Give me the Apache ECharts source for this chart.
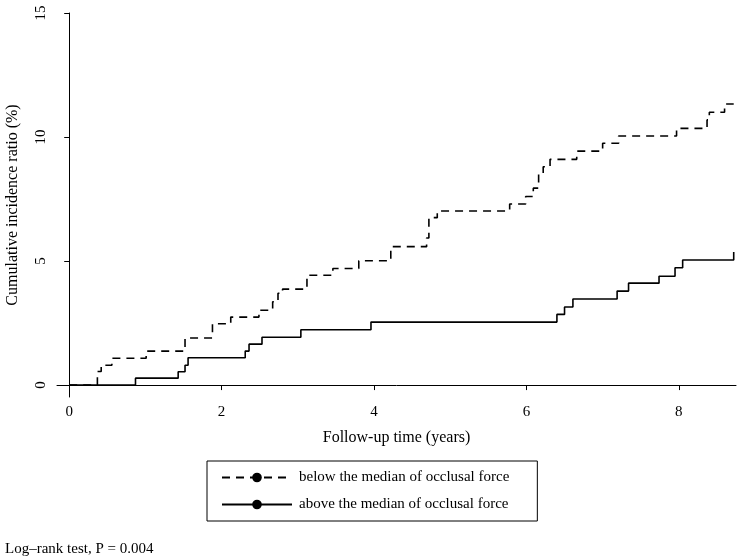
<!DOCTYPE html>
<html><head><meta charset="utf-8">
<script src="https://cdn.jsdelivr.net/npm/echarts@6/dist/echarts.min.js"></script>
<style>body{margin:0}#c{width:749px;height:558px}</style></head>
<body><div id="c"></div>
<script>
const belowSteps = [[0,0],[0.37,0.55],[0.42,0.8],[0.56,1.08],[1.01,1.37],[1.52,1.9],[1.88,2.47],[2.12,2.74],[2.49,3.02],[2.67,3.36],[2.74,3.7],[2.8,3.87],[3.12,4.43],[3.46,4.7],[3.8,5.01],[4.22,5.58],[4.69,5.93],[4.72,6.75],[4.83,7.02],[5.78,7.3],[5.99,7.6],[6.09,7.94],[6.16,8.5],[6.22,8.8],[6.31,9.1],[6.66,9.43],[7.0,9.75],[7.21,10.04],[7.97,10.35],[8.37,10.69],[8.4,11.0],[8.6,11.33],[8.72,11.33]];
const aboveSteps = [[0,0],[0.87,0.28],[1.43,0.54],[1.52,0.8],[1.56,1.1],[2.31,1.37],[2.36,1.65],[2.53,1.93],[3.04,2.23],[3.96,2.54],[6.4,2.85],[6.5,3.15],[6.61,3.47],[7.19,3.79],[7.34,4.11],[7.74,4.39],[7.95,4.73],[8.05,5.04],[8.72,5.04],[8.72,5.37]];
const xTicks = [0,2,4,6,8];
const yTicks = [0,5,10,15];
const seriesNames = ['below the median of occlusal force','above the median of occlusal force'];
const F = 'Liberation Serif';
const chart = echarts.init(document.getElementById('c'));
chart.setOption({
  animation:false,
  textStyle:{fontFamily:F,color:'#000'},
  grid:{left:57,right:13,top:13,bottom:161,containLabel:false,outerBoundsMode:'none'},
  title:{text:'Log\u2013rank test, P = 0.004',left:0,top:537,textStyle:{fontFamily:F,fontSize:15,fontWeight:'normal',color:'#000'}},
  legend:{orient:'vertical',left:207,top:461,itemWidth:70,itemHeight:12,itemGap:12,
    padding:[9,28,9,14],borderColor:'#000',borderWidth:1,
    textStyle:{fontFamily:F,fontSize:15,color:'#000',padding:[0,0,0,2]},
    data:seriesNames},
  xAxis:{type:'value',min:-0.16,max:8.75,name:'Follow-up time (years)',nameLocation:'middle',nameGap:33,
    nameTextStyle:{fontFamily:F,fontSize:16,color:'#000'},
    axisLine:{lineStyle:{color:'#000'}},axisTick:{show:true,customValues:xTicks,length:5,lineStyle:{color:'#000'}},
    axisLabel:{customValues:xTicks,fontFamily:F,fontSize:15,color:'#000'},splitLine:{show:false}},
  yAxis:{type:'value',min:-0.48,max:15,name:'Cumulative incidence ratio (%)',nameLocation:'middle',nameGap:36,
    nameTextStyle:{fontFamily:F,fontSize:16,color:'#000'},
    axisLine:{show:true,lineStyle:{color:'#000'}},axisTick:{show:true,customValues:yTicks,length:5,lineStyle:{color:'#000'}},
    axisLabel:{customValues:yTicks,rotate:90,fontFamily:F,fontSize:15,color:'#000',margin:8},splitLine:{show:false}},
  series:[
    {name:seriesNames[0],type:'line',step:'end',data:belowSteps,symbol:'none',lineStyle:{color:'#000',width:1.6,type:[8,6]},itemStyle:{color:'#000'}},
    {name:seriesNames[1],type:'line',step:'end',data:aboveSteps,symbol:'none',lineStyle:{color:'#000',width:1.6},itemStyle:{color:'#000'}}
  ]
});
</script></body></html>
